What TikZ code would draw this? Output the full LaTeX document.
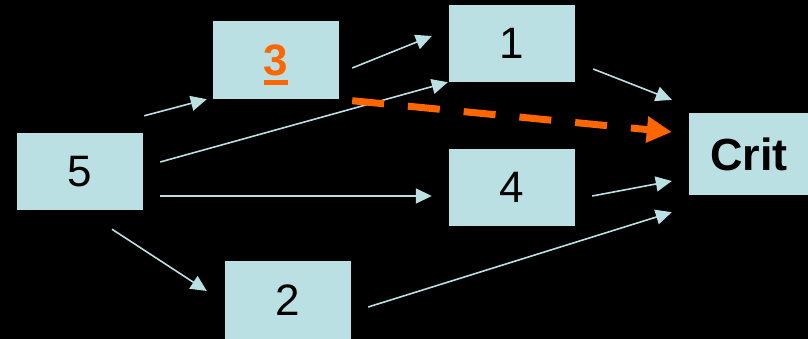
\documentclass[tikz,border=0pt]{standalone}
\usepackage{fontspec}
\setmainfont{Liberation Sans}
\usetikzlibrary{arrows.meta}

\definecolor{boxcyan}{RGB}{186,224,227}
\definecolor{critorange}{RGB}{255,102,0}
\newcommand{\fatul}[1]{\vtop{\hbox{#1}\kern4pt\hrule height 5pt}}

\begin{document}
\begin{tikzpicture}[x=1pt, y=-1pt,
    mybox/.style={fill=boxcyan, minimum width=126pt, minimum height=77pt, inner sep=0pt, font=\fontsize{44}{50}\selectfont},
    myline/.style={draw=boxcyan, line width=1.6pt, -{Triangle[length=16pt, width=15pt]}},
    critline/.style={draw=critorange, line width=7pt, dash pattern=on 32pt off 24pt, -{Triangle[length=25pt, width=25pt]}}]

\fill[black] (0,0) rectangle (808,339);
\useasboundingbox (0,0) rectangle (808,339);

\node[mybox](n5) at (80,171.5){5};
\node[mybox, minimum height=78pt, text=critorange, text depth=0pt](n3) at (276,60){\bfseries\fatul{3}};
\node[mybox](n1) at (512,43.5){1};
\node[mybox](n4) at (512,187.5){4};
\node[mybox, minimum height=78pt](n2) at (288,300){2};
\node[mybox, minimum width=120pt, minimum height=82pt, font=\fontsize{45}{50}\selectfont\bfseries](crit) at (749,154){Crit};

\draw[myline] ([shift={(1,-17)}]n5.north east) -- ([shift={(-6,0)}]n3.south west);
\draw[myline] ([shift={(13,8)}]n3.east) -- ([shift={(-17,-7.5)}]n1.west);
\draw[myline] ([shift={(17,-9.5)}]n5.east) -- ([shift={(-1,0)}]n1.south west);
\draw[myline] ([shift={(17,24.5)}]n5.east) -- ([shift={(-17,8.5)}]n4.west);
\draw[myline] ([shift={(32,19)}]n5.south) -- ([shift={(-18,-9)}]n2.west);
\draw[myline] ([shift={(18,25.5)}]n1.east) -- ([shift={(-17,-13)}]crit.north west);
\draw[myline] ([shift={(17,8.5)}]n4.east) -- ([shift={(-17,27)}]crit.west);
\draw[myline] ([shift={(17,7)}]n2.east) -- ([shift={(-17,17)}]crit.south west);

\draw[critline] ([shift={(13,1.5)}]n3.south east) -- ([shift={(-17,-22)}]crit.west);
\end{tikzpicture}
\end{document}
